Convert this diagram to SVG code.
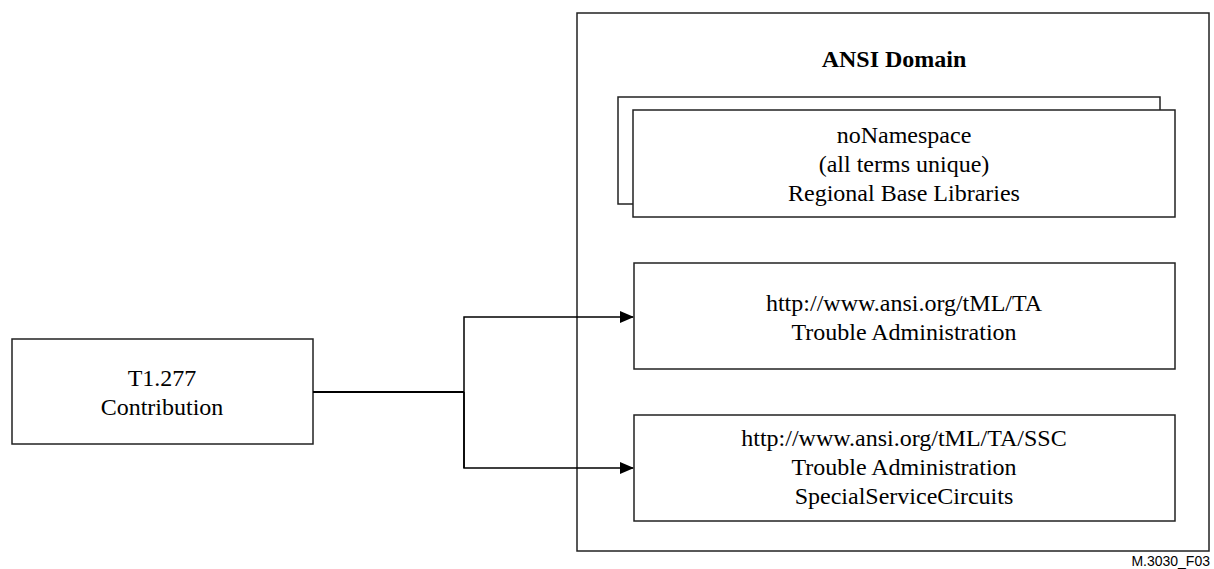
<svg xmlns="http://www.w3.org/2000/svg" width="1214" height="569" viewBox="0 0 1214 569">
<style>
.box{fill:#fff;stroke:#222;stroke-width:1.5}
.t{font-family:"Liberation Serif","Times New Roman",serif;font-size:24px;text-anchor:middle;fill:#000}
.b{font-weight:bold}
.c{fill:none;stroke:#000;stroke-width:1.5}
.lbl{font-family:"Liberation Sans",Arial,sans-serif;font-size:14px;text-anchor:end;fill:#000}
</style>
<defs>
<marker id="arr" markerWidth="14" markerHeight="12" refX="13" refY="6" orient="auto" markerUnits="userSpaceOnUse">
<path d="M0,0 L14,6 L0,12 Z" fill="#000"/>
</marker>
</defs>
<g id="ansi-domain">
<rect class="box" x="577" y="13" width="632" height="538"/>
<text class="t b" x="894" y="67">ANSI Domain</text>
</g>
<g id="nonamespace">
<rect class="box" x="618" y="97" width="542" height="107"/>
<rect class="box" x="633" y="110" width="542" height="107"/>
<text class="t" x="904" y="143">noNamespace</text>
<text class="t" x="904" y="172">(all terms unique)</text>
<text class="t" x="904" y="201">Regional Base Libraries</text>
</g>
<g id="ta">
<rect class="box" x="634" y="263" width="541" height="106"/>
<text class="t" x="904" y="311">http://www.ansi.org/tML/TA</text>
<text class="t" x="904" y="340">Trouble Administration</text>
</g>
<g id="ssc">
<rect class="box" x="634" y="415" width="541" height="106"/>
<text class="t" x="904" y="446">http://www.ansi.org/tML/TA/SSC</text>
<text class="t" x="904" y="475">Trouble Administration</text>
<text class="t" x="904" y="504">SpecialServiceCircuits</text>
</g>
<g id="t1277">
<rect class="box" x="12" y="339" width="301" height="105"/>
<text class="t" x="162" y="386">T1.277</text>
<text class="t" x="162" y="415">Contribution</text>
</g>
<g id="connectors">
<path d="M313,392 H464" fill="none" stroke="#000" stroke-width="2.2"/>
<path class="c" d="M464,468 V317 H633" marker-end="url(#arr)"/>
<path class="c" d="M464,392 V468 H633" marker-end="url(#arr)"/>
</g>
<text class="lbl" x="1210" y="566">M.3030_F03</text>
</svg>
